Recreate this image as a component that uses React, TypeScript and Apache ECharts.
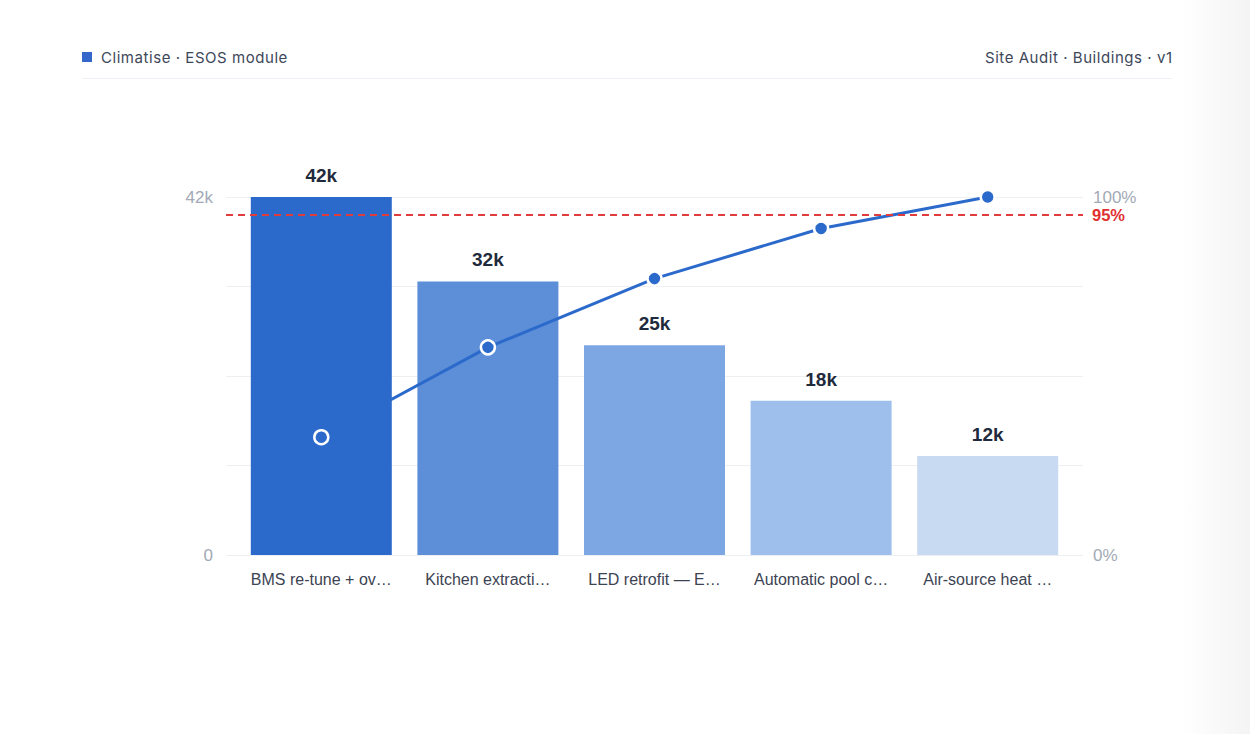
import React, { useEffect, useRef } from "react";
import * as echarts from "echarts";

const categories = [
  "BMS re-tune + overnight setback",
  "Kitchen extraction VSD controls",
  "LED retrofit — East wing",
  "Automatic pool cover installation",
  "Air-source heat pump (Block C)",
];
const savingsK = [42, 32.1, 24.6, 18.1, 11.6];
const cumulativePct = [32.9, 58.0, 77.2, 91.2, 100];
const barColors = ["#2b6acb", "#5d8fd9", "#7ca7e3", "#9ebfec", "#c8daf2"];
const thresholdPct = 95;
const headerLeft = "Climatise · ESOS module";
const headerRight = "Site Audit · Buildings · v1";
const maxLabelChars = 16;

const SANS = "Liberation Sans, Arial, Helvetica, sans-serif";

export default function App() {
  const ref = useRef<HTMLDivElement>(null);
  useEffect(() => {
    const chart = echarts.init(ref.current!, null, { renderer: "svg" });
    const gridTop = 197;
    const gridBottom = 179;
    chart.setOption({
      animation: false,
      backgroundColor: "transparent",
      graphic: [
        { type: "line", shape: { x1: 82, y1: 78.5, x2: 1172, y2: 78.5 }, style: { stroke: "#edf0f5", lineWidth: 1 } },
      ],
      grid: [
        { left: 226, right: 167, top: gridTop, bottom: gridBottom },
        { left: 238, right: 179, top: gridTop, bottom: gridBottom },
      ],
      xAxis: [
        { type: "category", gridIndex: 0, data: categories, show: false },
        {
          type: "category", gridIndex: 1, data: categories,
          axisLine: { show: false }, axisTick: { show: false },
          axisLabel: {
            color: "#3c4352", fontSize: 16, margin: 16, fontFamily: SANS, interval: 0,
            formatter: (name: string) => (name.length > maxLabelChars ? name.slice(0, maxLabelChars) + "…" : name),
          },
        },
      ],
      yAxis: [
        {
          type: "value", gridIndex: 0, min: 0, max: 42, interval: 10.5,
          axisLine: { show: false }, axisTick: { show: false },
          splitLine: { lineStyle: { color: "#eeeff2", width: 1 } },
          axisLabel: {
            color: "#a3a9b6", fontSize: 17, margin: 13, fontFamily: SANS,
            formatter: (v: number) => (v === 0 ? "0" : v === 42 ? "42k" : ""),
          },
        },
        {
          type: "value", gridIndex: 0, position: "right", min: 0, max: 100, interval: 25,
          axisLine: { show: false }, axisTick: { show: false }, splitLine: { show: false },
          axisLabel: {
            color: "#a3a9b6", fontSize: 17, margin: 10, fontFamily: SANS,
            formatter: (v: number) => (v === 0 || v === 100 ? v + "%" : ""),
          },
        },
        { type: "value", gridIndex: 1, min: 0, max: 42, interval: 10.5, show: false, splitLine: { show: false } },
        { type: "value", gridIndex: 1, min: 0, max: 100, interval: 25, show: false, splitLine: { show: false } },
      ],
      series: [
        {
          type: "line", xAxisIndex: 0, yAxisIndex: 1, data: [], silent: true,
          markLine: {
            symbol: "none", silent: true,
            lineStyle: { color: "#e03c3c", type: [7, 5], width: 2 },
            label: {
              position: "end", distance: 9, formatter: thresholdPct + "%",
              color: "#e03131", fontWeight: "bold", fontSize: 16.5, fontFamily: SANS,
            },
            data: [{ yAxis: thresholdPct }],
          },
        },
        {
          type: "bar", xAxisIndex: 1, yAxisIndex: 2, barWidth: 141,
          data: savingsK.map((v, i) => ({ value: v, itemStyle: { color: barColors[i] } })),
          label: {
            show: true, position: "top", distance: 12,
            color: "#1f2a3c", fontWeight: "bold", fontSize: 19, fontFamily: SANS,
            formatter: (p: any) => Math.round(p.value) + "k",
          },
        },
        {
          type: "line", xAxisIndex: 1, yAxisIndex: 3, data: cumulativePct,
          symbol: "circle", symbolSize: 14,
          lineStyle: { color: "#2b6acb", width: 3 },
          itemStyle: { color: "#2b6acb", borderColor: "#ffffff", borderWidth: 2.5 },
        },
      ],
    });
    return () => chart.dispose();
  }, []);
  const headerText: React.CSSProperties = {
    position: "absolute", top: 48, fontFamily: "Inter, sans-serif", fontSize: 15,
    letterSpacing: "0.55px", color: "#3d4759", lineHeight: "20px", whiteSpace: "nowrap", zIndex: 2,
  };
  return (
    <div style={{ position: "fixed", left: 0, top: 0, width: 1250, height: 734, background: "#ffffff" }}>
      <div
        style={{
          position: "absolute", right: 0, top: 0, width: 70, height: 734,
          background: "linear-gradient(to right, rgba(0,0,0,0), rgba(0,0,0,0.045))",
        }}
      />
      <div ref={ref} style={{ position: "absolute", left: 0, top: 0, width: 1250, height: 734 }} />
      <div style={{ position: "absolute", left: 82, top: 52, width: 10, height: 10, background: "#3566c9", zIndex: 2 }} />
      <div style={{ ...headerText, left: 101 }}>{headerLeft}</div>
      <div style={{ ...headerText, right: 1250 - 1172 - 0.55 }}>{headerRight}</div>
    </div>
  );
}
